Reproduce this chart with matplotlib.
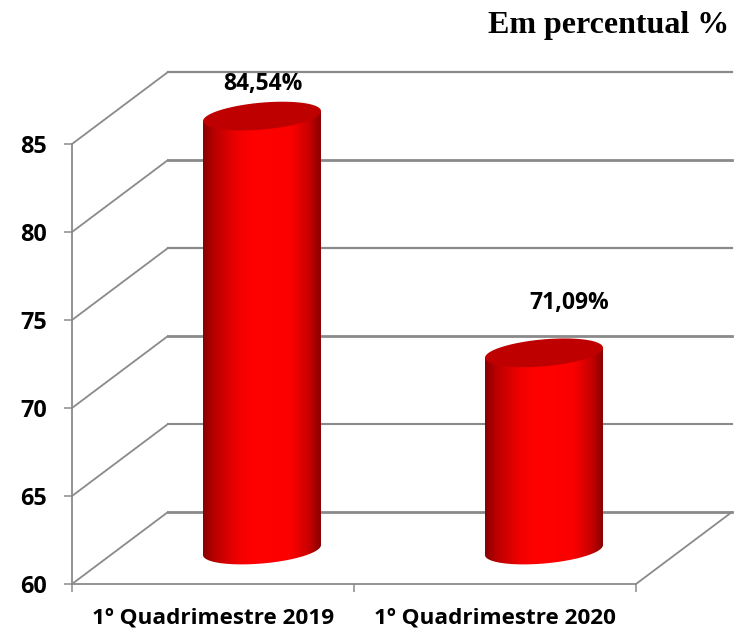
import numpy as np
import matplotlib
matplotlib.use("Agg")
import matplotlib.pyplot as plt
from matplotlib.colors import LinearSegmentedColormap
from matplotlib.patches import Polygon

categories = ["1º Quadrimestre 2019", "1º Quadrimestre 2020"]
values = [84.54, 71.09]
value_labels = ["84,54%", "71,09%"]
y_ticks = [60, 65, 70, 75, 80, 85]
title_text = "Em percentual %"

W, H = 737, 631
L, R, B, T = 72, 636, 584, 144
GREY = "#8a8a8a"
TOP_COLOR = "#bf0000"
LABEL_FONT = "Open Sans"

fig = plt.figure(figsize=(W / 100, H / 100), dpi=100)
ax = fig.add_axes([L / W, 1 - B / H, (R - L) / W, (B - T) / H])
ax.set_xlim(-0.5, 1.5)
ax.set_ylim(60, 85)
ax.patch.set_visible(False)

px = 2.0 / (R - L)          # data x per pixel
py = 25.0 / (B - T)         # data y per pixel
DX, DY = 96 * px, 72 * py   # depth of the 3-D box

for s in ("top", "right"):
    ax.spines[s].set_visible(False)
for s in ("left", "bottom"):
    ax.spines[s].set_color(GREY)
    ax.spines[s].set_linewidth(1.3)

ax.set_yticks(y_ticks)
ax.set_yticklabels([str(v) for v in y_ticks], fontfamily=LABEL_FONT,
                   fontweight="bold", fontsize=16.8)
ax.tick_params(axis="y", length=5.8, width=1.1, color=GREY, pad=12)
ax.set_xticks([-0.5, 0.5, 1.5])
ax.set_xticklabels([])
ax.set_xticks([0, 1], minor=True)
ax.set_xticklabels(categories, minor=True, fontfamily=LABEL_FONT,
                   fontweight="bold", fontsize=16.2)
ax.tick_params(axis="x", which="major", length=5.5, width=1.1, color=GREY)
ax.tick_params(axis="x", which="minor", length=0, pad=17)

# walls and floor of the 3-D box
back_widths = {60: 2.0, 65: 1.5, 70: 2.0, 75: 1.6, 80: 2.0, 85: 1.6}
for v in y_ticks:
    ax.plot([-0.5, -0.5 + DX], [v, v + DY], color=GREY, lw=1.3,
            clip_on=False, zorder=1, solid_capstyle="round")
    ax.plot([-0.5 + DX, 1.5 + DX], [v + DY, v + DY], color=GREY,
            lw=back_widths[v], clip_on=False, zorder=1)
ax.plot([1.5, 1.5 + DX], [60, 60 + DY], color=GREY, lw=1.3, clip_on=False, zorder=1)

# cylinders
cmap = LinearSegmentedColormap.from_list(
    "cyl", [(0, "#8a0000"), (0.10, "#bb0000"), (0.30, "#f20000"), (0.42, "#ff0000"),
            (0.75, "#fb0000"), (0.90, "#c80000"), (1, "#8a0000")])
grad = np.linspace(0, 1, 256).reshape(1, -1)
a, b, s = 59 * px, 13.5 * py, 5 * py
t_low = np.linspace(np.pi, 2 * np.pi, 60)
t_all = np.linspace(0, 2 * np.pi, 120)

for i, v in enumerate(values):
    cx = i + DX / 2 + 1 * px
    base = 60 + DY / 2 - 2 * py
    top = v + DY / 2
    x_low = cx + a * np.cos(t_low)
    y_low = base + b * np.sin(t_low) + s * np.cos(t_low)
    x_top = cx + a * np.cos(t_all)
    y_top = top + b * np.sin(t_all) + s * np.cos(t_all)
    body = np.column_stack([
        np.r_[x_low, cx + a, cx - a],
        np.r_[y_low, top + s, top - s],
    ])
    poly = Polygon(body, closed=True, facecolor="none", edgecolor="none",
                   transform=ax.transData)
    ax.add_patch(poly)
    poly.set_clip_on(False)
    im = ax.imshow(grad, cmap=cmap, aspect="auto", vmin=0, vmax=1,
                   extent=[cx - a, cx + a, base - 2, top + 2],
                   zorder=3, interpolation="bilinear")
    im.set_clip_box(fig.bbox)
    im.set_clip_path(poly)
    ax.fill(x_top, y_top, color=TOP_COLOR, zorder=4, clip_on=False, lw=0)

ax.set_xlim(-0.5, 1.5)
ax.set_ylim(60, 85)

# data labels
label_offsets = [(2, 32), (26, 50)]
for i, (v, lab) in enumerate(zip(values, value_labels)):
    ox, oy = label_offsets[i]
    ax.text(i + DX / 2 + ox * px, v + DY / 2 + oy * py, lab, ha="center", va="center",
            fontfamily=LABEL_FONT, fontweight="bold", fontsize=16.5, color="black",
            clip_on=False, zorder=6)

fig.text(729 / W, 1 - 25 / H, title_text, ha="right", va="center",
         fontfamily="Liberation Serif", fontweight="bold", fontsize=23, color="black")

fig.savefig("out.png", dpi=100, facecolor="white")
